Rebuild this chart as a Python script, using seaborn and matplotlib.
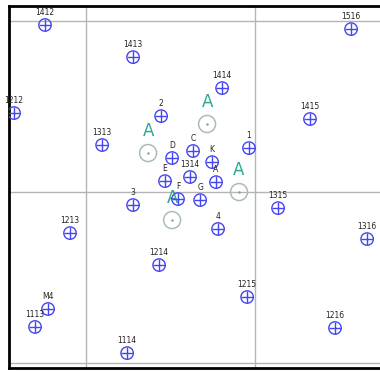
import pandas as pd
import seaborn as sns
import matplotlib.pyplot as plt

### point labels and positions (grid squares are 100 units wide)
names = ["1412", "1413", "1212", "2", "1313", "D", "E", "1516", "1414", "1415",
         "1", "C", "K", "A", "1314", "3", "F", "G", "4", "1213",
         "1214", "M4", "1113", "1114", "1315", "1316", "1215", "1216"]
xs = [75.7, 127.8, 57.4, 144.4, 109.5, 150.9, 146.7, 256.8, 180.5, 232.5,
      196.4, 163.3, 174.6, 176.9, 161.5, 127.8, 154.4, 167.5, 178.1, 90.5,
      143.2, 77.5, 69.8, 124.3, 213.6, 266.3, 195.3, 247.3]
ys = [297.7, 278.9, 246.2, 244.4, 227.5, 219.9, 206.4, 295.3, 260.8, 242.7,
      225.7, 224.0, 217.5, 205.8, 208.8, 192.4, 195.9, 195.3, 178.4, 176.0,
      157.3, 131.6, 121.1, 105.8, 190.6, 172.5, 138.6, 120.5]

### the green "A" rings
ring_x = [136.7, 171.6, 190.5, 150.9]
ring_y = [222.8, 239.8, 200.0, 183.6]

df = pd.DataFrame({"x": xs, "y": ys, "name": names})
rings = pd.DataFrame({"x": ring_x, "y": ring_y})

sns.set_style("white")
fig = plt.figure(figsize=(3.8, 3.71), dpi=100)
ax = fig.add_axes([9/380, 3/371, 373/380, 362/371])

blue = "#4646f0"
teal = "#2aa88f"

# rings with a dot in the middle
sns.scatterplot(data=rings, x="x", y="y", ax=ax, marker="o", s=150,
                facecolor="none", edgecolor="#a9bdb6", linewidth=1.1, zorder=3)
sns.scatterplot(data=rings, x="x", y="y", ax=ax, marker="o", s=3,
                color="#8a9a94", linewidth=0, zorder=3)
for rx, ry in zip(ring_x, ring_y):
    ax.annotate("A", (rx, ry), xytext=(0, 16), textcoords="offset points",
                ha="center", va="center", fontsize=12, color=teal, zorder=4)

# circle + cross markers
sns.scatterplot(data=df, x="x", y="y", ax=ax, marker="o", s=80,
                facecolor="none", edgecolor=blue, linewidth=1.0, zorder=5)
sns.scatterplot(data=df, x="x", y="y", ax=ax, marker="+", s=80,
                color=blue, linewidth=1.0, zorder=5)
for nm, px, py in zip(names, xs, ys):
    ax.annotate(nm, (px, py), xytext=(0, 5.5), textcoords="offset points",
                ha="center", va="bottom", fontsize=5.5, color="#222222", zorder=6)

ax.set_xlim(54.4, 275.1)
ax.set_ylim(97.1, 308.8)
ax.set_xticks([100, 200])
ax.set_yticks([100, 200, 300])
ax.grid(True, color="#b4b4b4", linewidth=1.0)
ax.tick_params(left=False, bottom=False, labelleft=False, labelbottom=False)
ax.set_xlabel("")
ax.set_ylabel("")
for side in ["left", "top", "bottom"]:
    ax.spines[side].set_color("black")
    ax.spines[side].set_linewidth(2)
ax.spines["right"].set_visible(False)

fig.savefig("out.png", dpi=100)
